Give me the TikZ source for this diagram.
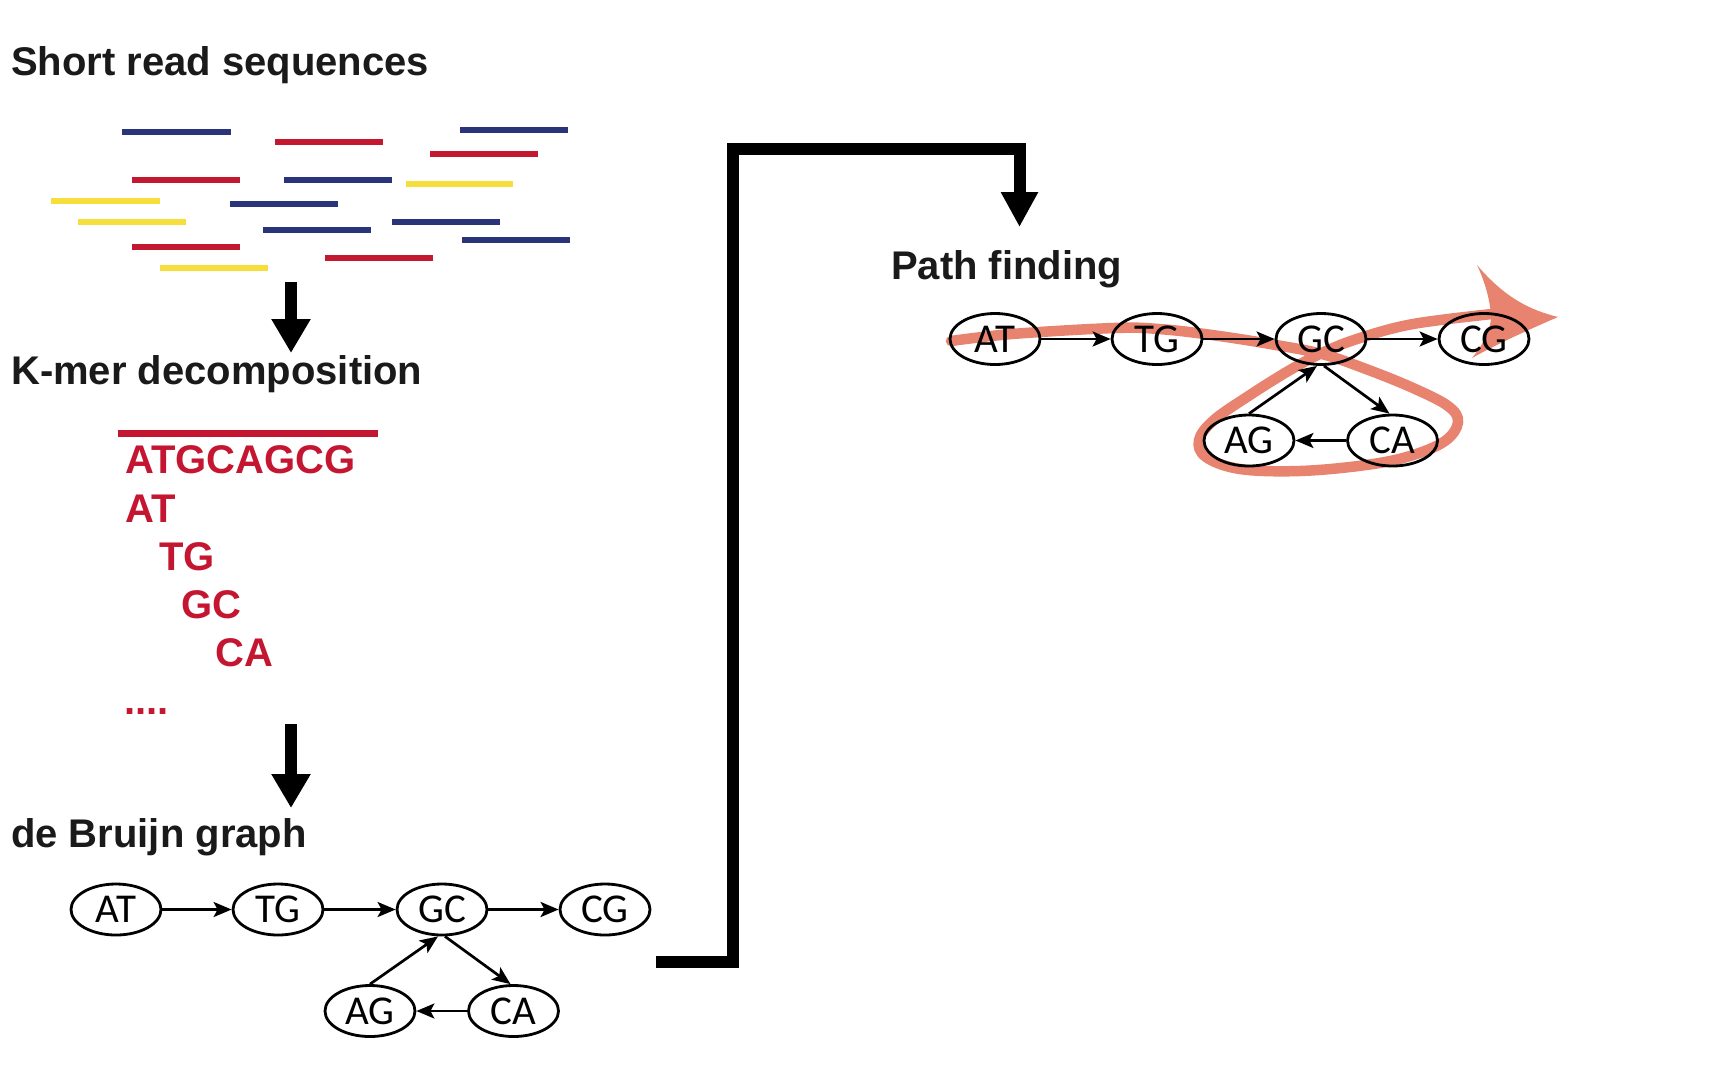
\documentclass[tikz,border=0pt]{standalone}
\usepackage{fontspec}
\setmainfont{Liberation Sans}
\newfontfamily\nodefont{Carlito}
\usetikzlibrary{shapes.geometric, arrows.meta}
\definecolor{rdblue}{RGB}{42,52,122}
\definecolor{rdred}{RGB}{196,24,48}
\definecolor{rdyellow}{RGB}{246,222,60}
\definecolor{kred}{RGB}{196,22,48}
\definecolor{salmon}{RGB}{232,131,112}
\definecolor{ink}{RGB}{26,26,26}
\tikzset{
  heading/.style={anchor=base west, inner sep=0pt, text=ink, font=\bfseries\fontsize{40}{48}\selectfont},
  kseq/.style={anchor=base west, inner sep=0pt, text=kred, font=\bfseries\fontsize{40}{48}\selectfont},
  read/.style={line width=6.5pt},
  bigarrow/.style={line width=12pt, draw=black, line join=miter, -{Triangle[width=37pt,length=34pt]}},
  gnode/.style={draw=black, ellipse, line width=2.8pt, minimum width=90pt, minimum height=51pt, inner sep=0pt, font=\nodefont\fontsize{41}{44}\selectfont},
  garrow/.style={line width=2.7pt, -{Stealth[length=18pt,width=15pt,inset=4pt]}},
  pathband/.style={draw=salmon, line width=10.5pt, line cap=round}
}
\begin{document}
\begin{tikzpicture}[x=1pt,y=-1pt]
\useasboundingbox (0,0) rectangle (1728,1080);

% headings
\node[heading] (hreads) at (11,75) {Short read sequences};
\node[heading] (hkmer) at (11,384) {K-mer decomposition};
\node[heading] (hdbg) at (11,847) {de Bruijn graph};
\node[heading] (hpath) at (891,279) {Path finding};

% short reads
\draw[read, rdblue] (122,132) -- (231,132);
\draw[read, rdred] (275,142) -- (383,142);
\draw[read, rdblue] (460,130) -- (568,130);
\draw[read, rdred] (430,154) -- (538,154);
\draw[read, rdred] (132,180) -- (240,180);
\draw[read, rdblue] (284,180) -- (392,180);
\draw[read, rdyellow] (406,184) -- (513,184);
\draw[read, rdyellow] (51,201) -- (160,201);
\draw[read, rdblue] (230,204) -- (338,204);
\draw[read, rdyellow] (78,222) -- (186,222);
\draw[read, rdblue] (392,222) -- (500,222);
\draw[read, rdblue] (263,230) -- (371,230);
\draw[read, rdblue] (462,240) -- (570,240);
\draw[read, rdred] (132,247) -- (240,247);
\draw[read, rdred] (325,258) -- (433,258);
\draw[read, rdyellow] (160,268) -- (268,268);

% k-mer decomposition
\draw[kred, line width=7pt] (118,433) -- (378,433);
\node[kseq] (kfull) at (125,473) {ATGCAGCG};
\node[kseq] (k1) at (125,522) {AT};
\node[kseq] (k2) at (159,570) {TG};
\node[kseq] (k3) at (181,618) {GC};
\node[kseq] (k4) at (215,666) {CA};
\node[kseq] (k5) at (124,714) {....};

% big arrows
\coordinate (a1s) at (291,282);
\coordinate (a1e) at (291,353);
\draw[bigarrow] (a1s) -- (a1e);
\coordinate (a2s) at (291,724);
\coordinate (a2e) at (291,808);
\draw[bigarrow] (a2s) -- (a2e);
\coordinate (c0) at (656,962);
\coordinate (c1) at (1019.5,227);
\draw[bigarrow, -{Triangle[width=35pt,length=35pt]}] (c0) -- (733,962) -- (733,149) -- (1019.5,149) -- (c1);

% bottom de Bruijn graph
\node[gnode] (AT) at (116,909.5) {AT};
\node[gnode] (TG) at (278,909.5) {TG};
\node[gnode] (GC) at (442,909.5) {GC};
\node[gnode] (CG) at (605,909.5) {CG};
\node[gnode] (AG) at (370,1011) {AG};
\node[gnode] (CA) at (513.5,1011) {CA};
\draw[garrow] (AT) -- (TG);
\draw[garrow] (TG) -- (GC);
\draw[garrow] (GC) -- (CG);
\draw[garrow] ([xshift=3pt]GC.south) -- ([xshift=-3pt]CA.north);
\draw[garrow] (CA) -- (AG);
\draw[garrow] (AG.north) -- ([xshift=-4pt]GC.south);

% path band (behind top graph)
\draw[pathband] plot[smooth, tension=0.6] coordinates {
 (951,341) (1012,334) (1114,328) (1159,329) (1212,335) (1270,344) (1322,354)
 (1366,369) (1413,388) (1448,406) (1458,422) (1445,441) (1410,456) (1366,465)
 (1300,471) (1240,469) (1206,457) (1199,440) (1214,420) (1250,395) (1290,370)
 (1324,352) (1360,338) (1413,324) (1492,314)};
\fill[salmon] (1477,265) .. controls (1505,298) and (1530,310) .. (1558,317)
  .. controls (1528,330) and (1497,344) .. (1472,358)
  .. controls (1484,343) and (1491,330) .. (1491,316)
  .. controls (1490,300) and (1485,282) .. (1477,265) -- cycle;

% top graph
\begin{scope}[shift={(879,-570.5)}]
\node[gnode] (pAT) at (116,909.5) {AT};
\node[gnode] (pTG) at (278,909.5) {TG};
\node[gnode] (pGC) at (442,909.5) {GC};
\node[gnode] (pCG) at (605,909.5) {CG};
\node[gnode] (pAG) at (370,1011) {AG};
\node[gnode] (pCA) at (513.5,1011) {CA};
\draw[garrow] (pAT) -- (pTG);
\draw[garrow] (pTG) -- (pGC);
\draw[garrow] (pGC) -- (pCG);
\draw[garrow] ([xshift=3pt]pGC.south) -- ([xshift=-3pt]pCA.north);
\draw[garrow] (pCA) -- (pAG);
\draw[garrow] (pAG.north) -- ([xshift=-4pt]pGC.south);
\end{scope}
\end{tikzpicture}
\end{document}
